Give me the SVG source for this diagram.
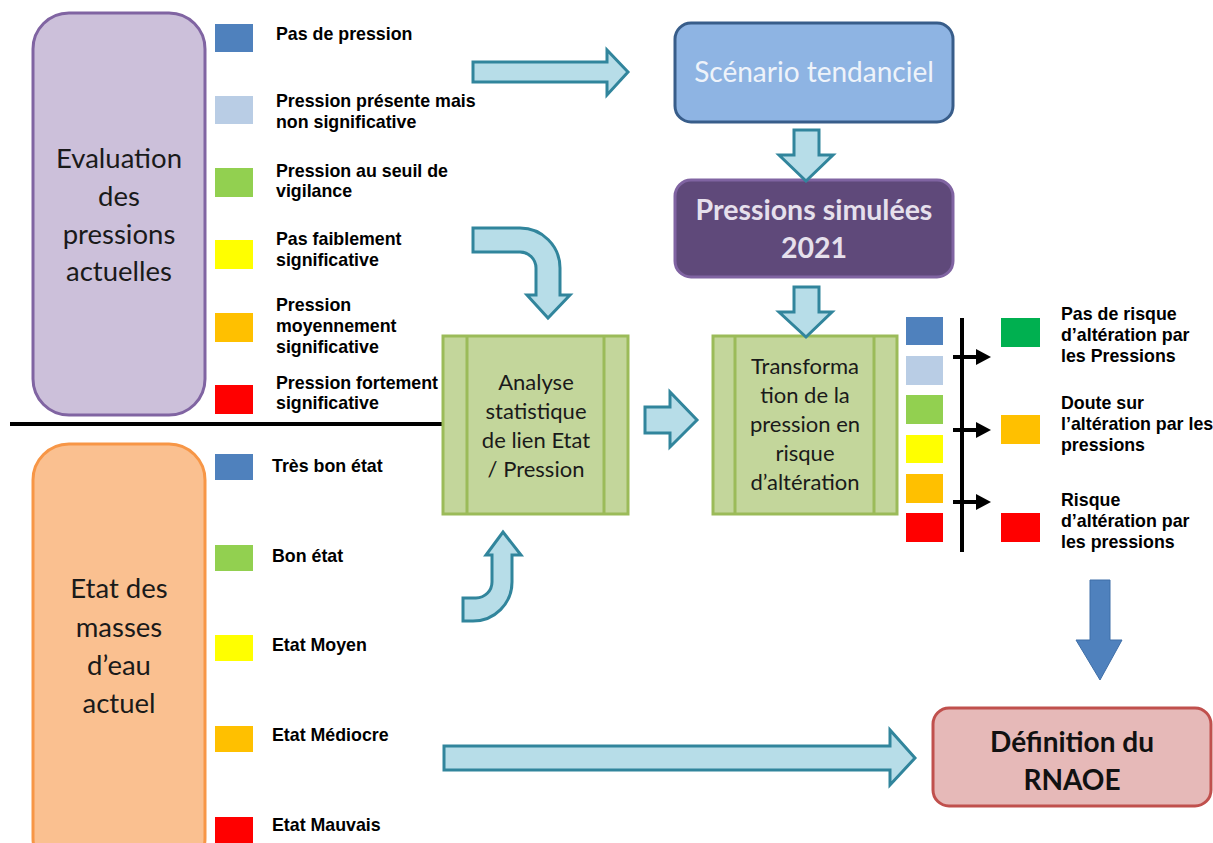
<svg xmlns="http://www.w3.org/2000/svg" width="1213" height="843" viewBox="0 0 1213 843">
<style>
.leg{font-family:"Liberation Sans",Arial,sans-serif;font-weight:bold;font-size:17.8px;fill:#000}
.box{font-family:Lato,"Open Sans",sans-serif;text-anchor:middle}
.arr{fill:#b7dde8;stroke:#31859c;stroke-width:3;stroke-linejoin:miter}
.proc{fill:#c3d69b;stroke:#9bbb59;stroke-width:3}
</style>
<rect width="1213" height="843" fill="#fff"/>

<g id="evaluation">
<rect x="33" y="13" width="172" height="402" rx="36" fill="#ccc0da" stroke="#8064a2" stroke-width="3"/>
<text class="box" font-size="27.5" fill="#1a1a1a"><tspan x="119" y="168">Evaluation</tspan><tspan x="119" y="206">des</tspan><tspan x="119" y="244">pressions</tspan><tspan x="119" y="281">actuelles</tspan></text>
</g>

<g id="legend-pressions">
<rect x="215" y="24" width="38" height="28" fill="#4f81bd"/>
<rect x="215" y="96" width="38" height="28" fill="#b9cde5"/>
<rect x="215" y="168" width="38" height="29" fill="#92d050"/>
<rect x="215" y="240" width="38" height="29" fill="#ffff00"/>
<rect x="215" y="313" width="38" height="29" fill="#ffc000"/>
<rect x="215" y="385" width="38" height="29" fill="#ff0000"/>
<text class="leg" x="276" y="40">Pas de pression</text>
<text class="leg"><tspan x="276" y="107">Pression présente mais</tspan><tspan x="276" y="128">non significative</tspan></text>
<text class="leg"><tspan x="276" y="177">Pression au seuil de</tspan><tspan x="276" y="197">vigilance</tspan></text>
<text class="leg"><tspan x="276" y="245">Pas faiblement</tspan><tspan x="276" y="266">significative</tspan></text>
<text class="leg"><tspan x="276" y="311">Pression</tspan><tspan x="276" y="332">moyennement</tspan><tspan x="276" y="353">significative</tspan></text>
<text class="leg"><tspan x="276" y="389">Pression fortement</tspan><tspan x="276" y="409">significative</tspan></text>
</g>

<g id="separator">
<line x1="10" y1="424" x2="445" y2="424" stroke="#000" stroke-width="4"/>
</g>

<g id="etat">
<rect x="33" y="444" width="172" height="430" rx="36" fill="#fac090" stroke="#f79646" stroke-width="3"/>
<text class="box" font-size="27.5" fill="#1a1a1a"><tspan x="119" y="598">Etat des</tspan><tspan x="119" y="637">masses</tspan><tspan x="119" y="675">d’eau</tspan><tspan x="119" y="713">actuel</tspan></text>
</g>

<g id="legend-etat">
<rect x="215" y="454" width="38" height="26" fill="#4f81bd"/>
<rect x="215" y="545" width="38" height="26" fill="#92d050"/>
<rect x="215" y="635" width="38" height="26" fill="#ffff00"/>
<rect x="215" y="726" width="38" height="26" fill="#ffc000"/>
<rect x="215" y="817" width="38" height="26" fill="#ff0000"/>
<text class="leg" x="272" y="472">Très bon état</text>
<text class="leg" x="272" y="562">Bon état</text>
<text class="leg" x="272" y="651">Etat Moyen</text>
<text class="leg" x="272" y="741">Etat Médiocre</text>
<text class="leg" x="272" y="831">Etat Mauvais</text>
</g>

<g id="scenario">
<rect x="675" y="23" width="278" height="99" rx="16" fill="#8eb4e3" stroke="#385d8a" stroke-width="3"/>
<text class="box" x="814" y="82" font-size="28" fill="#eef3fa">Scénario tendanciel</text>
</g>

<g id="pressions-simulees">
<rect x="675" y="180" width="278" height="97" rx="16" fill="#5f497a" stroke="#8064a2" stroke-width="3"/>
<text class="box" font-size="28.5" font-weight="bold" fill="#e6e0ec"><tspan x="814" y="220">Pressions simulées</tspan><tspan x="814" y="258">2021</tspan></text>
</g>

<g id="analyse">
<rect class="proc" x="443" y="336" width="185" height="178"/>
<line x1="467" y1="336" x2="467" y2="514" stroke="#9bbb59" stroke-width="3"/>
<line x1="604" y1="336" x2="604" y2="514" stroke="#9bbb59" stroke-width="3"/>
<text class="box" font-size="22" fill="#1a1a1a"><tspan x="536" y="390">Analyse</tspan><tspan x="536" y="419">statistique</tspan><tspan x="536" y="448">de lien Etat</tspan><tspan x="536" y="477">/ Pression</tspan></text>
</g>

<g id="transformation">
<rect class="proc" x="713" y="336" width="184" height="178"/>
<line x1="735" y1="336" x2="735" y2="514" stroke="#9bbb59" stroke-width="3"/>
<line x1="874" y1="336" x2="874" y2="514" stroke="#9bbb59" stroke-width="3"/>
<text class="box" font-size="22" fill="#1a1a1a"><tspan x="805" y="374">Transforma</tspan><tspan x="805" y="403">tion de la</tspan><tspan x="805" y="432">pression en</tspan><tspan x="805" y="461">risque</tspan><tspan x="805" y="490">d’altération</tspan></text>
</g>

<g id="legend-risque">
<rect x="906" y="317" width="37" height="28" fill="#4f81bd"/>
<rect x="906" y="356" width="37" height="29" fill="#b9cde5"/>
<rect x="906" y="395" width="37" height="29" fill="#92d050"/>
<rect x="906" y="435" width="37" height="28" fill="#ffff00"/>
<rect x="906" y="474" width="37" height="29" fill="#ffc000"/>
<rect x="906" y="513" width="37" height="29" fill="#ff0000"/>
<rect x="1001" y="318" width="39" height="29" fill="#00b050"/>
<rect x="1001" y="415" width="39" height="29" fill="#ffc000"/>
<rect x="1001" y="513" width="39" height="29" fill="#ff0000"/>
<text class="leg"><tspan x="1061" y="320">Pas de risque</tspan><tspan x="1061" y="341">d’altération par</tspan><tspan x="1061" y="362">les Pressions</tspan></text>
<text class="leg"><tspan x="1061" y="409">Doute sur</tspan><tspan x="1061" y="430">l’altération par les</tspan><tspan x="1061" y="451">pressions</tspan></text>
<text class="leg"><tspan x="1061" y="506">Risque</tspan><tspan x="1061" y="527">d’altération par</tspan><tspan x="1061" y="548">les pressions</tspan></text>
</g>

<g id="connectors">
<path class="arr" d="M473,62 H607 V50 L628,72 L607,95 V82 H473 Z"/>
<path class="arr" d="M794,130 H819 V155 H833 L806,181 L779,155 H794 Z"/>
<path class="arr" d="M794,287 H819 V312 H832 L806,337 L779,312 H794 Z"/>
<path class="arr" d="M473,228 H520 A40,40 0 0 1 560,268 V295 H570 L548,318 L527,295 H536 V268 A16,16 0 0 0 520,252 H473 Z"/>
<path class="arr" d="M463,598 H476 A16,16 0 0 0 492,582 V555 H486 L503,532 L521,555 H512 V582 A39,39 0 0 1 473,621 H463 Z"/>
<path class="arr" d="M645,407 H670 V392 L697,420 L670,447 V433 H645 Z"/>
<path class="arr" d="M444,746 H890 V730 L915,758 L890,785 V770 H444 Z"/>
<path d="M1090,580 H1110 V640 H1122 L1100,680 L1076,640 H1090 Z" fill="#4f81bd" stroke="#3f6fa8" stroke-width="1"/>
<line x1="962" y1="318" x2="962" y2="552" stroke="#000" stroke-width="4"/>
<g stroke="#000" stroke-width="4">
<line x1="953" y1="357" x2="978" y2="357"/>
<line x1="953" y1="430" x2="978" y2="430"/>
<line x1="953" y1="502" x2="978" y2="502"/>
</g>
<g fill="#000">
<polygon points="976,349 991,357 976,365"/>
<polygon points="976,422 991,430 976,438"/>
<polygon points="976,494 991,502 976,510"/>
</g>
</g>

<g id="definition">
<rect x="933" y="708" width="278" height="98" rx="16" fill="#e6b9b8" stroke="#c0504d" stroke-width="3"/>
<text class="box" font-size="28" font-weight="bold" fill="#111"><tspan x="1072" y="752">Définition du</tspan><tspan x="1072" y="790">RNAOE</tspan></text>
</g>
</svg>
